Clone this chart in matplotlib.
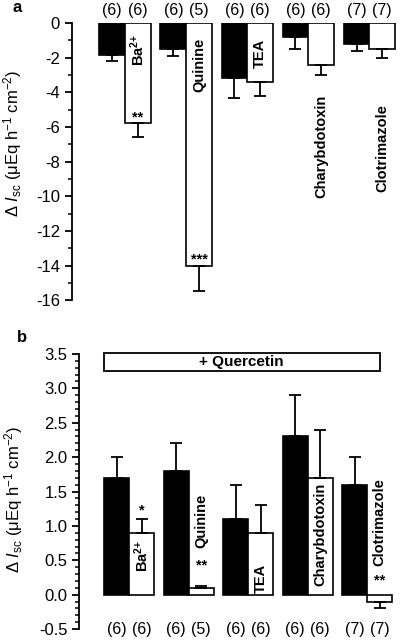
import matplotlib
matplotlib.use("Agg")
import matplotlib.pyplot as plt
from matplotlib.patches import Rectangle
from matplotlib.ticker import MultipleLocator, FormatStrFormatter
import numpy as np

plt.rcParams['font.family'] = ['Liberation Sans', 'DejaVu Sans']
plt.rcParams['mathtext.fontset'] = 'custom'
plt.rcParams['mathtext.rm'] = 'Liberation Sans'
plt.rcParams['mathtext.it'] = 'Liberation Sans:italic'
plt.rcParams['mathtext.bf'] = 'Liberation Sans:bold'
plt.rcParams['axes.unicode_minus'] = False

blockers = [r"$\mathbf{Ba^{2{+}}}$", "Quinine", "TEA", "Charybdotoxin", "Clotrimazole"]

# panel a: control (black) and blocker (white), mean and SEM end
a_ctrl = [-1.85, -1.5, -3.2, -0.83, -1.2]
a_ctrl_err = [-2.2, -1.9, -4.3, -1.5, -1.6]
a_blk = [-5.8, -14.0, -3.4, -2.4, -1.5]
a_blk_err = [-6.6, -15.5, -4.2, -3.0, -2.0]
a_n_ctrl = [6, 6, 6, 6, 7]
a_n_blk = [6, 5, 6, 6, 7]
a_stars = ["**", "***", "", "", ""]

# panel b: with quercetin
b_ctrl = [1.7, 1.8, 1.1, 2.3, 1.6]
b_ctrl_err = [2.0, 2.2, 1.6, 2.9, 2.0]
b_blk = [0.9, 0.1, 0.9, 1.7, -0.1]
b_blk_err = [1.1, 0.12, 1.3, 2.4, -0.2]
b_n_ctrl = [6, 6, 6, 6, 7]
b_n_blk = [6, 5, 6, 6, 7]
b_stars = ["*", "**", "", "", "**"]

x = np.arange(len(blockers))
w = 0.42

fig = plt.figure(figsize=(4.04, 6.4), dpi=100)
ax1 = fig.add_axes([0.178, 0.531, 0.812, 0.433])
ax2 = fig.add_axes([0.196, 0.017, 0.794, 0.430])


def one_sided(vals, ends):
    vals = np.array(vals)
    ends = np.array(ends)
    d = np.abs(ends - vals)
    lo = np.where(vals < 0, d, 0)
    hi = np.where(vals >= 0, d, 0)
    return [lo, hi]


def draw(ax, ctrl, ctrl_err, blk, blk_err):
    ax.bar(x - w / 2, ctrl, w, color="black", edgecolor="black", linewidth=1.2)
    ax.bar(x + w / 2, blk, w, color="white", edgecolor="black", linewidth=1.2)
    ax.errorbar(x - w / 2, ctrl, yerr=one_sided(ctrl, ctrl_err), fmt="none",
                ecolor="black", elinewidth=1.3, capsize=4, capthick=1.3)
    ax.errorbar(x + w / 2, blk, yerr=one_sided(blk, blk_err), fmt="none",
                ecolor="black", elinewidth=1.3, capsize=4, capthick=1.3)
    for s in ["top", "right", "bottom"]:
        ax.spines[s].set_visible(False)
    ax.spines["left"].set_linewidth(1.3)
    ax.set_xticks([])
    ax.tick_params(axis="y", which="major", length=5, width=1.3, labelsize=12)
    ax.tick_params(axis="y", which="minor", length=3, width=1.1)


ylab = r"$\Delta$ $\mathit{I}_{\mathrm{sc}}$ ($\mathrm{\mu}$Eq h$^{-1}$ cm$^{-2}$)"

# ---- panel a
draw(ax1, a_ctrl, a_ctrl_err, a_blk, a_blk_err)
ax1.set_xlim(-0.87, 4.5)
ax1.set_ylim(-16, 0)
ax1.yaxis.set_major_locator(MultipleLocator(2))
ax1.yaxis.set_minor_locator(MultipleLocator(1))
ax1.set_ylabel(ylab, fontsize=12)
ax1.yaxis.set_label_coords(-0.145, 0.567)
for i in x:
    ax1.text(i - w / 2, 0.7, f"({a_n_ctrl[i]})", ha="center", va="center", fontsize=11.5, clip_on=False)
    ax1.text(i + w / 2, 0.7, f"({a_n_blk[i]})", ha="center", va="center", fontsize=11.5, clip_on=False)
a_lab_y = [-1.55, -2.4, -1.75, -7.1, -7.2]
for i in x:
    ax1.text(i + w / 2, a_lab_y[i], blockers[i], rotation=90, ha="center", va="center",
             fontsize=10.5, fontweight="bold")
a_star_y = [-5.45, -13.65]
for i in range(2):
    ax1.text(i + w / 2, a_star_y[i], a_stars[i], ha="center", va="center",
             fontsize=10.5, fontweight="bold")

# ---- panel b
draw(ax2, b_ctrl, b_ctrl_err, b_blk, b_blk_err)
ax2.set_xlim(-0.84, 4.55)
ax2.set_ylim(-0.5, 3.5)
ax2.yaxis.set_major_locator(MultipleLocator(0.5))
ax2.yaxis.set_minor_locator(MultipleLocator(0.1))
ax2.yaxis.set_major_formatter(FormatStrFormatter("%.1f"))
ax2.set_ylabel(ylab, fontsize=12)
ax2.yaxis.set_label_coords(-0.168, 0.47)
for i in x:
    ax2.text(i - w / 2, -0.5, f"({b_n_ctrl[i]})", ha="center", va="center", fontsize=11.5, clip_on=False)
    ax2.text(i + w / 2, -0.5, f"({b_n_blk[i]})", ha="center", va="center", fontsize=11.5, clip_on=False)
b_lab_y = [0.57, 1.07, 0.24, 0.87, 1.05]
for i in x:
    ax2.text(i + w / 2, b_lab_y[i], blockers[i], rotation=90, ha="center", va="center",
             fontsize=10.5, fontweight="bold")
b_star_y = [1.22, 0.42, 0, 0, 0.2]
for i in x:
    if b_stars[i]:
        ax2.text(i + w / 2, b_star_y[i], b_stars[i], ha="center", va="center",
                 fontsize=10.5, fontweight="bold")
ax2.add_patch(Rectangle((-0.43, 3.25), 4.64, 0.26, facecolor="white", edgecolor="black",
                        linewidth=1.3, clip_on=False))
ax2.text(1.89, 3.38, "+ Quercetin", ha="center", va="center", fontsize=11, fontweight="bold")

fig.text(17 / 404, 1 - 8 / 640, "a", fontsize=12, fontweight="bold", ha="center", va="center")
fig.text(22 / 404, 1 - 338 / 640, "b", fontsize=12, fontweight="bold", ha="center", va="center")

fig.savefig("out.png", dpi=100)
